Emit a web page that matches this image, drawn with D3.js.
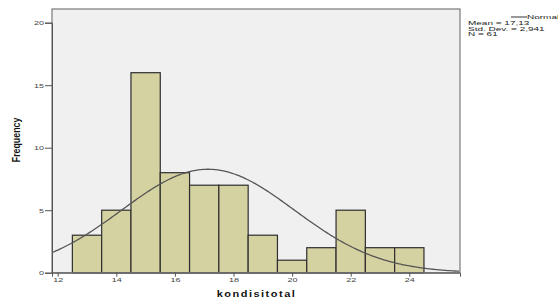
<!DOCTYPE html>
<html><head><meta charset="utf-8">
<script src="https://cdnjs.cloudflare.com/ajax/libs/d3/7.8.5/d3.min.js"></script>
<style>
html,body{margin:0;padding:0;background:#fff;}
svg{display:block;font-family:"Liberation Sans",Arial,sans-serif;}
.sq{transform-box:fill-box;transform-origin:center;}
</style></head>
<body><svg id="c" width="558" height="303"></svg>
<script>
// Data
const binCenters = [13,14,15,16,17,18,19,20,21,22,23,24];
const counts     = [3, 5, 16, 8, 7, 7, 3, 1, 2, 5, 2, 2];
const xTicks = [12,14,16,18,20,22,24];
const yTicks = [0,5,10,15,20];
const stats = {mean:17.13, sd:2.941, n:61};
const statLabels = ["Mean = 17,13","Std. Dev. = 2,941","N = 61"];

const svg = d3.select("#c");
const L=52, R=460, T=9, B=272.7;
const x = d3.scaleLinear().domain([11.805,25.73]).range([L,R]);
const y = d3.scaleLinear().domain([0,20]).range([B,22.7]);

svg.append("rect").attr("x",L).attr("y",T).attr("width",R-L).attr("height",B-T)
  .attr("fill","#f0f0f0");

svg.append("defs").append("clipPath").attr("id","pc").append("rect")
  .attr("x",L).attr("y",T).attr("width",R-L).attr("height",B-T);

svg.append("g").selectAll("rect").data(binCenters).join("rect")
  .attr("x",d=>x(d-0.5)).attr("width",d=>x(d+0.5)-x(d-0.5))
  .attr("y",(d,i)=>y(counts[i])).attr("height",(d,i)=>y(0)-y(counts[i]))
  .attr("fill","#d5d2a2").attr("stroke","#2e2e2e").attr("stroke-width",1.2);

// fitted normal curve from the stated mean / sd / N
const xs = d3.range(11.805, 25.74, 0.05);
const pdf = v => stats.n/(stats.sd*Math.sqrt(2*Math.PI))*Math.exp(-0.5*((v-stats.mean)/stats.sd)**2);
svg.append("path").attr("clip-path","url(#pc)")
  .attr("d", d3.line().x(d=>x(d)).y(d=>y(pdf(d)))(xs))
  .attr("fill","none").attr("stroke","#555").attr("stroke-width",1.3);

// frame
svg.append("rect").attr("x",L).attr("y",T).attr("width",R-L).attr("height",B-T)
  .attr("fill","none").attr("stroke","#7a7a7a").attr("stroke-width",1.2);

const ya = d3.axisLeft(y).tickValues(yTicks).tickSize(7).tickPadding(1);
const gy = svg.append("g").attr("transform",`translate(${L},0)`).call(ya);
const xa = d3.axisBottom(x).tickValues(xTicks).tickSize(4).tickPadding(0);
const gx = svg.append("g").attr("transform",`translate(0,${B})`).call(xa);
[gy,gx].forEach(g=>{
  g.select(".domain").attr("stroke","#555");
  g.selectAll(".tick line").attr("stroke","#555");
  g.selectAll("text").attr("fill","#444").style("font-size","9px")
    .attr("class","sq").style("transform","scale(1,0.65)");
});

svg.append("text").attr("x",256.5).attr("y",298).attr("text-anchor","middle")
  .attr("class","sq").style("transform","scale(1,0.85)")
  .style("font-size","11px").style("font-weight","bold").style("letter-spacing","1.5px")
  .attr("fill","#111").text("kondisitotal");
svg.append("g").attr("transform","translate(20,140) rotate(-90)")
  .append("text").attr("text-anchor","middle").attr("class","sq").style("transform","scale(0.8,1)")
  .style("font-size","11px").style("font-weight","bold").attr("fill","#111").text("Frequency");

// legend
svg.append("line").attr("x1",511).attr("x2",527).attr("y1",17).attr("y2",17)
  .attr("stroke","#555").attr("stroke-width",1.2);
svg.append("text").attr("x",527).attr("y",20.5).attr("class","sq").style("transform","scale(1,0.5)")
  .style("font-size","10px").attr("fill","#222").text("Normal");
svg.append("g").selectAll("text").data(statLabels).join("text")
  .attr("x",468).attr("y",(d,i)=>26.5+i*5.6).attr("class","sq").style("transform","scale(1,0.5)")
  .style("font-size","10px").attr("fill","#222").text(d=>d);
</script></body></html>
